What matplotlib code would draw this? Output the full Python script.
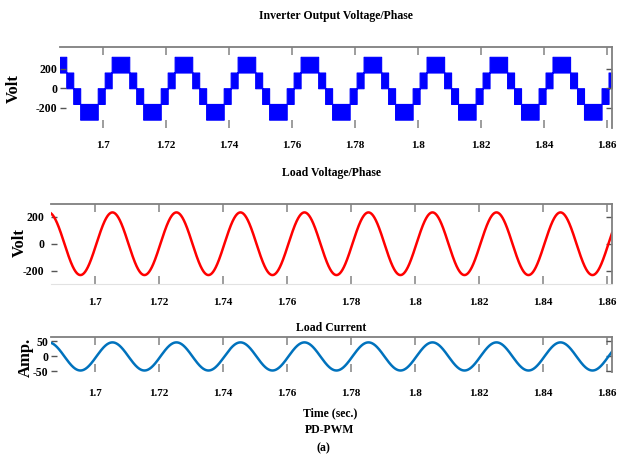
import matplotlib
matplotlib.use("Agg")
import matplotlib.pyplot as plt
import numpy as np

# time window shown (s) and supply frequency
t_start = 1.6863
t_end = 1.8616
freq = 50.0
peak_time = 1.7055          # a positive peak of the fundamental

# inverter output (5-level PD-PWM)
inv_levels = [-320, -160, 0, 160, 320]
inv_ref_amp = 250

# load side
v_load_amp = 231
i_load_amp = 47

xticks = [1.7, 1.72, 1.74, 1.76, 1.78, 1.8, 1.82, 1.84, 1.86]
xtick_labels = ["1.7", "1.72", "1.74", "1.76", "1.78", "1.8", "1.82", "1.84", "1.86"]
v_ticks = [-200, 0, 200]
i_ticks = [-50, 0, 50]

plt.rcParams['font.family'] = ['Liberation Serif', 'DejaVu Serif']
plt.rcParams['font.weight'] = 'bold'
plt.rcParams['axes.titleweight'] = 'bold'

W, H = 618, 466
fig = plt.figure(figsize=(W / 100, H / 100), dpi=100)


def px_axes(left, top, right, bottom):
    return fig.add_axes([left / W, 1 - bottom / H, (right - left) / W, (bottom - top) / H])


t = np.linspace(t_start, t_end, 40000)
phase = 2 * np.pi * freq * (t - peak_time)

step = inv_levels[1] - inv_levels[0]
ref = inv_ref_amp * np.cos(phase)
band = np.floor(ref / step)
lower = band * step
upper = lower + step

v_load = v_load_amp * np.cos(phase)
i_load = i_load_amp * np.cos(phase)


def style(ax, ylim, yticks, ypad, xpad):
    ax.set_xlim(t_start, t_end)
    ax.set_ylim(*ylim)
    ax.set_xticks(xticks)
    ax.set_xticklabels(xtick_labels)
    ax.set_yticks(yticks)
    ax.set_yticklabels([str(v) for v in yticks])
    ax.tick_params(axis='x', direction='in', top=True, bottom=True, length=6, width=1.2,
                   color='#8c8c8c', labelsize=8, pad=xpad)
    ax.tick_params(axis='y', direction='in', left=True, right=True, length=4, width=1.0,
                   color='#555555', labelsize=8.5, pad=ypad)
    for s in ['left', 'bottom']:
        ax.spines[s].set_visible(False)
    for s in ['top', 'right']:
        ax.spines[s].set_color('#7f7f7f')
        ax.spines[s].set_linewidth(1.3)


# inverter output voltage
ax1 = px_axes(60, 47, 612, 128)
ax1.fill_between(t, lower, upper, step='mid', facecolor='#0000ff', edgecolor='#0000ff', lw=0.8)
style(ax1, (-405, 420), v_ticks, 2, 9)
ax1.set_title("Inverter Output Voltage/Phase", fontsize=8.5, pad=20)
fig.text(14 / W, 1 - 89 / H, "Volt", rotation=90, ha='center', va='center', fontsize=12)

# load voltage
ax2 = px_axes(51, 204, 612, 284)
ax2.plot(t, v_load, color='#ff0000', lw=1.8)
style(ax2, (-297, 293), v_ticks, 5, 10)
ax2.spines['bottom'].set_visible(True)
ax2.spines['bottom'].set_color('#e2e2e2')
ax2.set_title("Load Voltage/Phase", fontsize=8.5, pad=20)
fig.text(20 / W, 1 - 243 / H, "Volt", rotation=90, ha='center', va='center', fontsize=12)

# load current
ax3 = px_axes(51, 337, 612, 372)
ax3.plot(t, i_load, color='#0072bd', lw=1.8)
style(ax3, (-52, 65), i_ticks, 2, 12)
ax3.set_title("Load Current", fontsize=8.5, pad=4)
fig.text(26 / W, 1 - 357 / H, "Amp.", rotation=90, ha='center', va='center', fontsize=12)

fig.text(330 / W, 1 - 413 / H, "Time (sec.)", ha='center', va='center', fontsize=8.5)
fig.text(330 / W, 1 - 430 / H, "PD-PWM", ha='center', va='center', fontsize=8.5)
fig.text(323 / W, 1 - 448 / H, "(a)", ha='center', va='center', fontsize=8.5)

fig.savefig("out.png", dpi=100)
